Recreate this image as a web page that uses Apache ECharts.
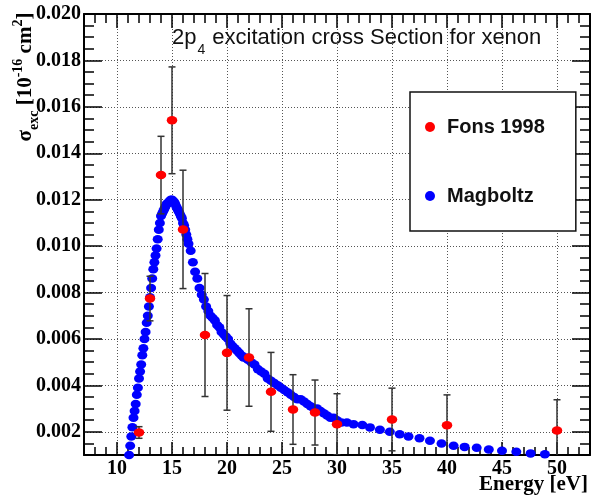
<!DOCTYPE html>
<html>
<head>
<meta charset="utf-8">
<script src="https://cdn.jsdelivr.net/npm/echarts@6/dist/echarts.min.js"></script>
<style>
html,body{margin:0;padding:0;background:#fff;}
#chart{width:593px;height:501px;}
</style>
</head>
<body>
<div id="chart"></div>
<script>
// ---- Magboltz calculation (blue) ----
const energyMag = [
 11.1,11.2,11.3,11.4,11.5,11.6,11.7,11.8,11.9,12.0,
 12.1,12.2,12.3,12.4,12.5,12.6,12.7,12.8,12.9,13.0,
 13.1,13.2,13.3,13.4,13.5,13.6,13.7,13.8,13.9,14.0,
 14.1,14.2,14.3,14.4,14.5,14.6,14.7,14.8,14.9,15.0,
 15.1,15.2,15.3,15.4,15.5,15.6,15.7,15.8,15.9,16.0,
 16.1,16.2,16.3,16.4,16.5,16.7,16.9,17.1,17.3,17.5,
 17.7,17.9,18.1,18.3,18.5,18.7,18.9,19.1,19.3,19.5,
 19.7,19.9,20.1,20.3,20.5,20.7,20.9,21.1,21.3,21.5,
 21.7,21.9,22.2,22.5,22.8,23.1,23.4,23.7,24.0,24.3,
 24.6,24.9,25.2,25.5,25.8,26.1,26.4,26.7,27.0,27.3,
 27.6,27.9,28.2,28.5,28.8,29.1,29.4,29.7,30.0,30.4,
 30.9,31.5,32.3,33.0,33.9,34.8,35.7,36.5,37.5,38.45,
 39.5,40.6,41.6,42.7,43.8,45.0,46.3,47.6,48.9
];
const sigmaMag = [
 0.0010,0.0014,0.0018,0.0022,0.0026,0.0029,0.0032,0.0036,0.0039,0.0043,
 0.0046,0.0049,0.0053,0.0056,0.0060,0.0063,0.0067,0.0070,0.0074,0.0078,
 0.0082,0.0086,0.0090,0.0093,0.0096,0.0099,0.0103,0.0107,0.0110,0.0113,
 0.0114,0.0115,0.0116,0.0117,0.0118,0.01185,0.0119,0.01195,0.0120,0.0120,
 0.01195,0.0119,0.0118,0.0117,0.0116,0.0115,0.0114,0.0113,0.0112,0.0110,
 0.0109,0.0107,0.0105,0.0103,0.0101,0.0098,0.0093,0.0089,0.0086,0.0082,
 0.0079,0.0077,0.0074,0.0072,0.0070,0.0069,0.0068,0.0066,0.0065,0.0063,
 0.0062,0.0061,0.0060,0.0058,0.0057,0.0056,0.0055,0.0054,0.0053,0.0052,
 0.0052,0.0051,0.0050,0.0049,0.0047,0.0046,0.0045,0.0043,0.0042,0.0041,
 0.0040,0.0039,0.0038,0.0037,0.0036,0.0035,0.0034,0.0034,0.0033,0.0032,
 0.0031,0.0030,0.0030,0.0029,0.0028,0.0027,0.0026,0.0026,0.0025,0.0024,
 0.0024,0.00233,0.00229,0.00219,0.00209,0.00200,0.00189,0.00180,0.00172,0.00161,
 0.00150,0.00140,0.00135,0.00131,0.00124,0.00118,0.00114,0.00107,0.00103
];
// ---- Fons 1998 measurement (red) ----
const energyFons = [12,13,14,15,16,18,20,22,24,26,28,30,35,40,50];
const sigmaFons  = [0.00197,0.00774,0.01306,0.01542,0.01072,0.00617,0.00540,0.00520,0.00372,0.00296,0.00283,0.00232,0.00253,0.00228,0.00206];
const errFons    = [0.00025,0.00096,0.00167,0.00230,0.00255,0.00265,0.00247,0.00210,0.00170,0.00150,0.00140,0.00132,0.00135,0.00131,0.00132];
// ---- axes ----
const xTicks = [10,15,20,25,30,35,40,45,50];
const yTicks = [0.002,0.004,0.006,0.008,0.010,0.012,0.014,0.016,0.018,0.020];
const X_MIN = 7, X_MAX = 53, Y_MIN = 0.001, Y_MAX = 0.020;

const chart = echarts.init(document.getElementById('chart'), null, {renderer:'canvas'});

const serif = 'Liberation Serif, Times New Roman, serif';
const sans = 'Liberation Sans, Arial, sans-serif';
const black = '#000';

function majorX(pos, labels, len) {
  return {
    type:'value', position:pos, min:X_MIN, max:X_MAX, interval:1,
    axisLine:{show:true, onZero:false, lineStyle:{color:black, width:2}},
    axisTick:{show:true, inside:true, length:len, customValues:xTicks, lineStyle:{color:black, width:1.5}},
    axisLabel:{show:labels, customValues:xTicks, margin:4, fontFamily:serif, fontWeight:'bold', fontSize:20, color:black},
    splitLine:{show:labels, lineStyle:{type:[1,2], color:'#555', width:1}},
    minorTick:{show:false}
  };
}
function minorX(pos, len) {
  return {
    type:'value', position:pos, min:X_MIN, max:X_MAX, interval:1,
    axisLine:{show:false, onZero:false},
    axisTick:{show:true, inside:true, length:len, lineStyle:{color:black, width:1.5}},
    axisLabel:{show:false}, splitLine:{show:false}
  };
}
function majorY(pos, labels, len) {
  return {
    type:'value', position:pos, min:Y_MIN, max:Y_MAX, interval:0.0005,
    axisLine:{show:true, onZero:false, lineStyle:{color:black, width:2}},
    axisTick:{show:true, inside:true, length:len, customValues:yTicks, lineStyle:{color:black, width:1.5}},
    axisLabel:{show:labels, customValues:yTicks, margin:3, fontFamily:serif, fontWeight:'bold', fontSize:20, color:black,
      formatter:v=>v.toFixed(3)},
    splitLine:{show:labels, lineStyle:{type:[1,2], color:'#555', width:1}}
  };
}
function minorY(pos, len) {
  return {
    type:'value', position:pos, min:Y_MIN, max:Y_MAX, interval:0.0005,
    axisLine:{show:false, onZero:false},
    axisTick:{show:true, inside:true, length:len, lineStyle:{color:black, width:1.5}},
    axisLabel:{show:false}, splitLine:{show:false}
  };
}

const xMain = majorX('bottom', true, 13);
xMain.name = 'Energy [eV]';
xMain.nameLocation = 'end';
xMain.nameGap = -2;
xMain.nameMoveOverlap = false;
xMain.nameTextStyle = {fontFamily:serif, fontWeight:'bold', fontSize:21, color:black, align:'right', verticalAlign:'top', lineHeight:22, padding:[19,0,0,0]};

const option = {
  animation:false,
  backgroundColor:'#fff',
  title:{
    text:'{a|2p}{s|4}{a| excitation cross Section for xenon}',
    left:167, top:22,
    textStyle:{fontWeight:'normal', rich:{
      a:{fontFamily:sans, fontWeight:'normal', fontSize:22, color:'#111', lineHeight:30, verticalAlign:'top'},
      s:{fontFamily:sans, fontWeight:'normal', fontSize:14, color:'#111', lineHeight:30, verticalAlign:'bottom', padding:[0,1,0,1]}
    }}
  },
  grid:{left:84, right:3, top:14, bottom:46, containLabel:false, outerBoundsMode:'none'},
  legend:{
    data:['Fons 1998','Magboltz'],
    orient:'vertical', left:410, top:92,
    icon:'circle', itemWidth:10, itemHeight:10, itemGap:49,
    padding:[25,31,25,15],
    backgroundColor:'#fff', borderColor:'#111', borderWidth:1.5,
    textStyle:{fontFamily:sans, fontWeight:'bold', fontSize:20, color:'#111', lineHeight:20, padding:[0,0,0,7]}
  },
  xAxis:[ xMain, minorX('bottom', 8), majorX('top', false, 14), minorX('top', 9) ],
  yAxis:[ majorY('left', true, 18), minorY('left', 10), majorY('right', false, 18), minorY('right', 10) ],
  graphic:[{
    type:'text', x:26, y:77, rotation:Math.PI/2,
    style:{
      text:'{m|σ}{sub|exc}{m| [10}{sup|-16}{m| cm}{sup|2}{m|]}',
      align:'center', verticalAlign:'middle',
      rich:{
        m:{fontFamily:serif, fontWeight:'bold', fontSize:21, fill:black, lineHeight:30, verticalAlign:'middle'},
        sub:{fontFamily:serif, fontWeight:'bold', fontSize:14, fill:black, lineHeight:14, verticalAlign:'bottom'},
        sup:{fontFamily:serif, fontWeight:'bold', fontSize:14, fill:black, lineHeight:14, verticalAlign:'top'}
      }
    }
  }],
  series:[
    {
      name:'Magboltz', type:'scatter', symbol:'circle', symbolSize:[10,8.5],
      itemStyle:{color:'#0000ff', opacity:1}, clip:true, z:2,
      data: energyMag.map((e,i)=>[e, sigmaMag[i]])
    },
    {
      name:'errors', type:'custom', z:3, clip:true,
      renderItem:function(params, api){
        const x = api.value(0), y = api.value(1), e = api.value(2);
        const hiV = Math.min(y+e, Y_MAX), loV = Math.max(y-e, Y_MIN);
        const p0 = api.coord([x, hiV]), p1 = api.coord([x, loV]);
        const st = {stroke:'#333', lineWidth:1.5};
        const cap = 3.5;
        const ch = [{type:'line', shape:{x1:p0[0], y1:p0[1], x2:p1[0], y2:p1[1]}, style:st}];
        if (y+e <= Y_MAX) ch.push({type:'line', shape:{x1:p0[0]-cap, y1:p0[1], x2:p0[0]+cap, y2:p0[1]}, style:st});
        if (y-e >= Y_MIN) ch.push({type:'line', shape:{x1:p1[0]-cap, y1:p1[1], x2:p1[0]+cap, y2:p1[1]}, style:st});
        return {type:'group', children:ch};
      },
      data: energyFons.map((e,i)=>[e, sigmaFons[i], errFons[i]])
    },
    {
      name:'Fons 1998', type:'scatter', symbol:'circle', symbolSize:[10.5,8.5],
      itemStyle:{color:'#ff0000', opacity:1}, clip:true, z:4,
      data: energyFons.map((e,i)=>[e, sigmaFons[i]])
    }
  ]
};
chart.setOption(option);
</script>
</body>
</html>
